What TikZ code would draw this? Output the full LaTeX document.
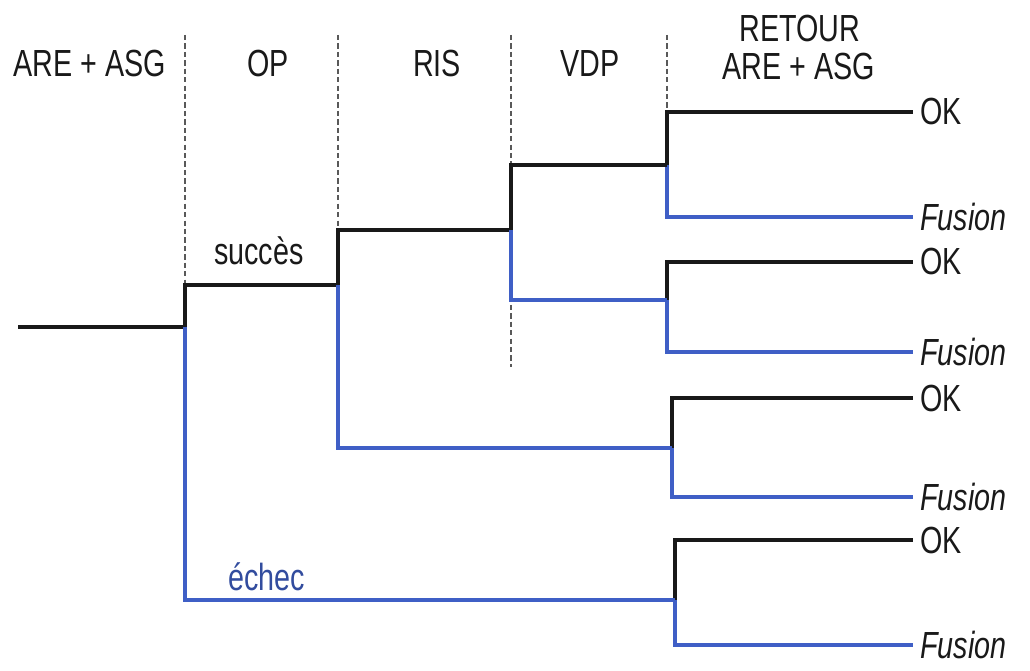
\documentclass[tikz,border=0pt]{standalone}
\usepackage{fontspec}
\setmainfont{Liberation Sans}[FakeStretch=0.76]
\usepackage{tikz}
\usetikzlibrary{positioning,calc}
\definecolor{Bleu}{HTML}{3F5FC6}
\newcommand\taille{\fontsize{21.5}{24}\selectfont}

\begin{document}
\begin{tikzpicture}[x=0.02cm,y=-0.02cm,every node/.style={font=\taille,text=black!90},
  oui/.style={line width=2pt,black!90},
  non/.style={line width=2pt,Bleu},
  guide/.style={black!65,line width=0.8pt,dash pattern=on 3pt off 1.8pt},
  issue/.style={anchor=west,inner sep=4pt}]
\useasboundingbox (0,0) rectangle (1030,671);
% en-tetes des colonnes
\node (h1) at (90,64) {ARE + ASG};
\node (h2) at (268,64) {OP};
\node (h3) at (437,64) {RIS};
\node (h4) at (590,64) {VDP};
\node (h5) at (800,29) {RETOUR};
\node (h6) at (799,67) {ARE + ASG};
\foreach \x/\y in {185/285,338/230,511/367,667/112}
  \draw[guide] (\x,35) -- (\x,\y);
% embranchements
\coordinate (depart) at (18,327);
\coordinate (op) at (185,327);
\coordinate (ris) at (338,285);
\coordinate (vdp) at (511,230);
\foreach \p/\x/\y/\h/\b in {a/667/165/112/217,b/667/300/262/352,c/672/448/398/497,d/675/600/540/645}{
  \coordinate (\p) at (\x,\y);
  \node[issue] (ok\p) at (913,\h) {OK};
  \node[issue,font=\taille\itshape] (fu\p) at (913,\b) {Fusion};
  \draw[oui] (\p) |- (ok\p.west);
  \draw[non] (\p) |- (fu\p.west);
}
\draw[oui] (depart) -- (op) |- (ris) |- (vdp) |- (a);
\draw[non] (op) |- (d);
\draw[non] (ris) |- (c);
\draw[non] (vdp) |- (b);
\node[anchor=base west] (succes) at (208,265) {succès};
\node[anchor=base west,text=Bleu!80!black] (echec) at (222,590) {échec};
\end{tikzpicture}
\end{document}
